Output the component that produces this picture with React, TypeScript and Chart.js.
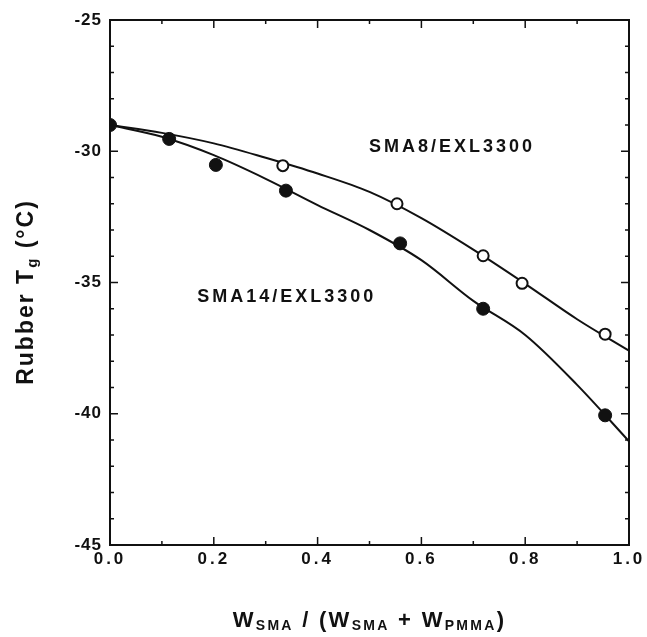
import React, { useEffect, useRef } from "react";
import { Chart, registerables } from "chart.js";

Chart.register(...registerables);

// Measured points
const sma14X = [0, 0.114, 0.204, 0.339, 0.559, 0.719, 0.954];
const sma14Y = [-29.0, -29.53, -30.52, -31.5, -33.51, -36.0, -40.06];
const sma8X = [0.333, 0.553, 0.719, 0.794, 0.954];
const sma8Y = [-30.55, -32.0, -33.98, -35.03, -36.97];

// Fitted curves
const fitX = [0, 0.1, 0.2, 0.3, 0.4, 0.5, 0.6, 0.7, 0.8, 0.9, 1.0];
const sma8Fit = [-29.0, -29.3, -29.7, -30.25, -30.85, -31.55, -32.55, -33.75, -35.05, -36.4, -37.6];
const sma14Fit = [-29.0, -29.45, -30.15, -31.05, -32.05, -33.0, -34.15, -35.7, -37.0, -38.9, -41.05];

// Axis ticks
const xTicks = [0, 0.2, 0.4, 0.6, 0.8, 1.0];
const xMinorTicks = [0.1, 0.3, 0.5, 0.7, 0.9];
const yTicks = [-45, -40, -35, -30, -25];
const yMinorTicks = [-44, -43, -42, -41, -39, -38, -37, -36, -34, -33, -32, -31, -29, -28, -27, -26];

// Curve labels
const labelTexts = ["SMA8/EXL3300", "SMA14/EXL3300"];
const labelX = [0.499, 0.168];
const labelY = [-30.03, -35.74];

const FONT = "'Liberation Sans', Arial, Helvetica, sans-serif";
const INK = "#111";

type Seg = { t: string; sub?: boolean };

function drawSegs(
  ctx: CanvasRenderingContext2D,
  segs: Seg[],
  cx: number,
  baseline: number,
  mainSize: number,
  subSize: number,
  spacing: number,
  subDrop: number
) {
  const mainFont = `bold ${mainSize}px ${FONT}`;
  const subFont = `bold ${subSize}px ${FONT}`;
  (ctx as any).letterSpacing = `${spacing}px`;
  let total = 0;
  const widths: number[] = [];
  for (const s of segs) {
    ctx.font = s.sub ? subFont : mainFont;
    const w = ctx.measureText(s.t).width;
    widths.push(w);
    total += w;
  }
  let x = cx - total / 2;
  ctx.textAlign = "left";
  ctx.textBaseline = "alphabetic";
  segs.forEach((s, i) => {
    ctx.font = s.sub ? subFont : mainFont;
    ctx.fillText(s.t, x, baseline + (s.sub ? subDrop : 0));
    x += widths[i];
  });
}

function patchSpacing(scale: any, spacing: string) {
  if (!scale || scale.__spacingPatched) return;
  const orig = scale.drawLabels.bind(scale);
  scale.drawLabels = (area: any) => {
    const ctx = scale.ctx;
    const prev = (ctx as any).letterSpacing;
    (ctx as any).letterSpacing = spacing;
    orig(area);
    (ctx as any).letterSpacing = prev;
  };
  scale.__spacingPatched = true;
}

const decorPlugin = {
  id: "decor",
  beforeDraw(chart: any) {
    patchSpacing(chart.scales.x, "3px");
    patchSpacing(chart.scales.y, "1px");
  },
  afterDraw(chart: any) {
    const ctx: CanvasRenderingContext2D = chart.ctx;
    const { left, right, top, bottom } = chart.chartArea;
    const xs = chart.scales.x;
    const ys = chart.scales.y;
    ctx.save();
    ctx.strokeStyle = INK;
    ctx.lineWidth = 1.5;
    const major = 8;
    const minor = 4;
    ctx.beginPath();
    yTicks.forEach((v) => {
      const py = ys.getPixelForValue(v);
      ctx.moveTo(left, py);
      ctx.lineTo(left + major, py);
      ctx.moveTo(right, py);
      ctx.lineTo(right - major, py);
    });
    yMinorTicks.forEach((v) => {
      const py = ys.getPixelForValue(v);
      ctx.moveTo(left, py);
      ctx.lineTo(left + minor, py);
      ctx.moveTo(right, py);
      ctx.lineTo(right - minor, py);
    });
    xTicks.forEach((v) => {
      const px = xs.getPixelForValue(v);
      ctx.moveTo(px, bottom);
      ctx.lineTo(px, bottom - major);
      ctx.moveTo(px, top);
      ctx.lineTo(px, top + major);
    });
    xMinorTicks.forEach((v) => {
      const px = xs.getPixelForValue(v);
      ctx.moveTo(px, bottom);
      ctx.lineTo(px, bottom - minor);
      ctx.moveTo(px, top);
      ctx.lineTo(px, top + minor);
    });
    ctx.stroke();

    ctx.fillStyle = INK;
    // Curve labels
    ctx.font = `bold 18px ${FONT}`;
    (ctx as any).letterSpacing = "3px";
    ctx.textAlign = "left";
    ctx.textBaseline = "alphabetic";
    labelTexts.forEach((t, i) => {
      ctx.fillText(t, xs.getPixelForValue(labelX[i]), ys.getPixelForValue(labelY[i]));
    });

    // X title
    drawSegs(
      ctx,
      [
        { t: "W" },
        { t: "SMA", sub: true },
        { t: " / (W" },
        { t: "SMA", sub: true },
        { t: " + W" },
        { t: "PMMA", sub: true },
        { t: ")" },
      ],
      (left + right) / 2,
      627,
      22,
      14,
      2.3,
      3
    );

    // Y title (rotated)
    ctx.save();
    ctx.translate(33, 292);
    ctx.rotate(-Math.PI / 2);
    drawSegs(
      ctx,
      [{ t: "Rubber T" }, { t: "g", sub: true }, { t: " (°C)" }],
      0,
      0,
      23,
      15,
      2,
      4
    );
    ctx.restore();
    ctx.restore();
  },
};

export default function App() {
  const ref = useRef<HTMLCanvasElement | null>(null);
  useEffect(() => {
    if (!ref.current) return;
    const tickFont = { family: FONT, size: 17, weight: "bold" as const };
    const chart = new Chart(ref.current, {
      type: "scatter",
      data: {
        datasets: [
          {
            label: "SMA8 data",
            data: sma8X.map((x, i) => ({ x, y: sma8Y[i] })),
            pointRadius: 5.5,
            pointBackgroundColor: "#fff",
            pointBorderColor: INK,
            pointBorderWidth: 2,
            showLine: false,
          },
          {
            label: "SMA14 data",
            data: sma14X.map((x, i) => ({ x, y: sma14Y[i] })),
            pointRadius: 6.5,
            pointBackgroundColor: INK,
            pointBorderColor: INK,
            pointBorderWidth: 1,
            showLine: false,
          },
          {
            label: "SMA8 fit",
            data: fitX.map((x, i) => ({ x, y: sma8Fit[i] })),
            showLine: true,
            pointRadius: 0,
            borderColor: INK,
            borderWidth: 2,
            cubicInterpolationMode: "monotone",
          },
          {
            label: "SMA14 fit",
            data: fitX.map((x, i) => ({ x, y: sma14Fit[i] })),
            showLine: true,
            pointRadius: 0,
            borderColor: INK,
            borderWidth: 2,
            cubicInterpolationMode: "monotone",
          },
        ],
      },
      options: {
        responsive: false,
        animation: false,
        devicePixelRatio: 1,
        layout: { padding: { left: 10, right: 18, top: 20, bottom: 0 } },
        plugins: { legend: { display: false }, tooltip: { enabled: false } },
        scales: {
          x: {
            type: "linear",
            position: "bottom",
            min: 0,
            max: 1,
            afterBuildTicks: (s: any) => {
              s.ticks = xTicks.map((v) => ({ value: v }));
            },
            afterFit: (s: any) => {
              s.height = 92;
            },
            ticks: {
              callback: (v: any) => Number(v).toFixed(1),
              font: tickFont,
              color: INK,
              padding: 4,
              maxRotation: 0,
              autoSkip: false,
            },
            grid: { display: false, drawTicks: false },
            border: { display: true, color: INK, width: 2 },
          },
          xTop: {
            type: "linear",
            position: "top",
            min: 0,
            max: 1,
            afterFit: (s: any) => {
              s.height = 0;
            },
            ticks: { display: false },
            grid: { display: false, drawTicks: false },
            border: { display: true, color: INK, width: 2 },
          },
          y: {
            type: "linear",
            position: "left",
            min: -45,
            max: -25,
            afterBuildTicks: (s: any) => {
              s.ticks = yTicks.map((v) => ({ value: v }));
            },
            afterFit: (s: any) => {
              s.width = 100;
            },
            ticks: {
              callback: (v: any) => String(v),
              font: tickFont,
              color: INK,
              padding: 8,
              autoSkip: false,
            },
            grid: { display: false, drawTicks: false },
            border: { display: true, color: INK, width: 2 },
          },
          yRight: {
            type: "linear",
            position: "right",
            min: -45,
            max: -25,
            afterFit: (s: any) => {
              s.width = 0;
            },
            ticks: { display: false },
            grid: { display: false, drawTicks: false },
            border: { display: true, color: INK, width: 2 },
          },
        },
      },
      plugins: [decorPlugin],
    });
    return () => chart.destroy();
  }, []);
  return (
    <div style={{ position: "absolute", left: 0, top: 0, width: 647, height: 637, background: "#fff" }}>
      <canvas ref={ref} width={647} height={637} />
    </div>
  );
}
